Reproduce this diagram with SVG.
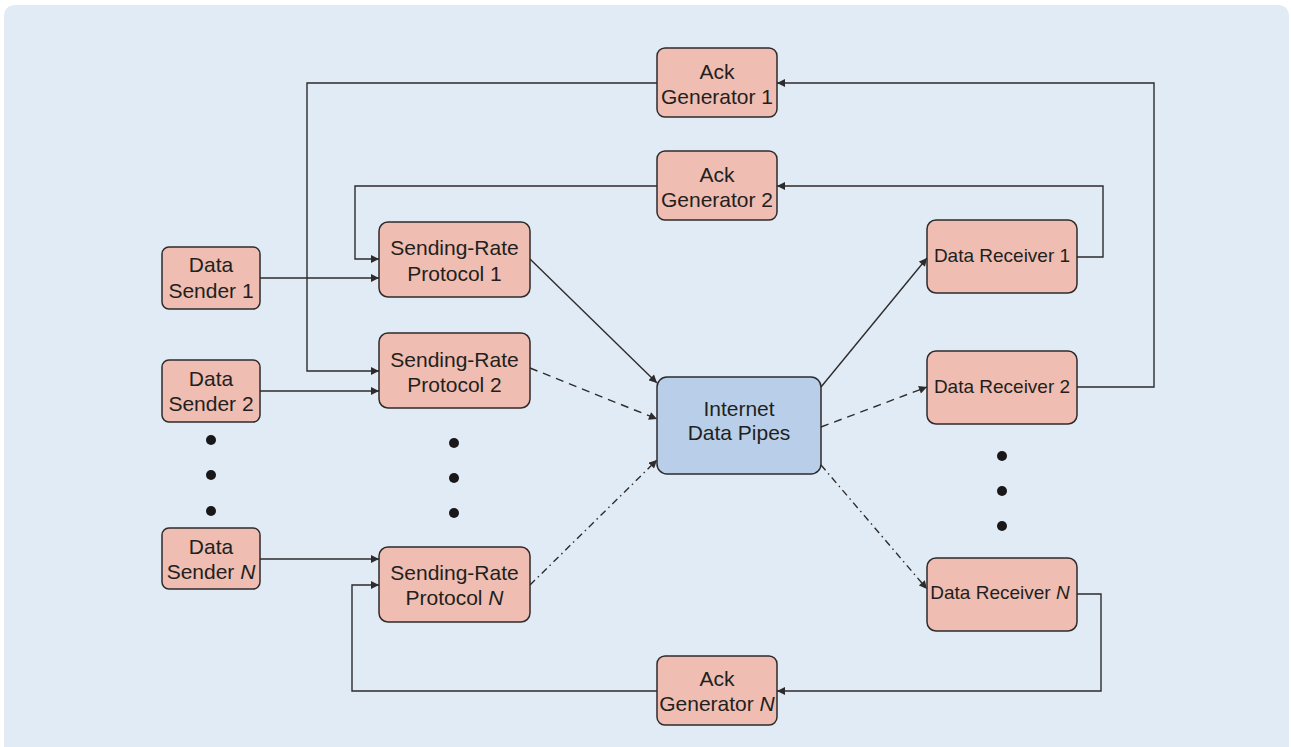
<svg xmlns="http://www.w3.org/2000/svg" width="1291" height="747" viewBox="0 0 1291 747">
  <style>
    .box { fill: #efbdb1; stroke: #2e2b2c; stroke-width: 1.5; }
    .pipe { fill: #b9cfe9; stroke: #2e2b2c; stroke-width: 1.5; }
    .lbl { font-family: "Liberation Sans", Arial, sans-serif; font-size: 21px; fill: #231f20; text-anchor: middle; }
    .rcv { font-size: 19px; }
    .it { font-style: italic; }
    .wire { fill: none; stroke: #2e2b2c; stroke-width: 1.4; }
    .dash { stroke-dasharray: 8 6; }
    .dashdot { stroke-dasharray: 7 4 1.5 4; }
    .dot { fill: #1a1718; }
  </style>
  <defs>
    <marker id="arrow" viewBox="0 0 10 10" refX="10" refY="5" markerWidth="9" markerHeight="8" markerUnits="userSpaceOnUse" orient="auto">
      <path d="M0,0 L10,5 L0,10 Z" fill="#2e2b2c"/>
    </marker>
  </defs>

  <!-- panel -->
  <path d="M4,747 L4,17 Q4,5 16,5 L1277,5 Q1289,5 1289,17 L1289,747 Z" fill="#e1ebf5"/>

  <!-- connectors -->
  <g id="connectors">
    <path class="wire" d="M260,278 L379,278" marker-end="url(#arrow)"/>
    <path class="wire" d="M260,391 L379,391" marker-end="url(#arrow)"/>
    <path class="wire" d="M260,559 L379,559" marker-end="url(#arrow)"/>

    <path class="wire" d="M1077,387 L1154,387 L1154,83 L777,83" marker-end="url(#arrow)"/>
    <path class="wire" d="M657,83 L307,83 L307,371 L379,371" marker-end="url(#arrow)"/>

    <path class="wire" d="M1077,257 L1103,257 L1103,186 L777,186" marker-end="url(#arrow)"/>
    <path class="wire" d="M657,186 L355,186 L355,259 L379,259" marker-end="url(#arrow)"/>

    <path class="wire" d="M1077,594 L1101,594 L1101,691 L777,691" marker-end="url(#arrow)"/>
    <path class="wire" d="M657,691 L352,691 L352,585 L379,585" marker-end="url(#arrow)"/>

    <path class="wire" d="M530,259 L657,383" marker-end="url(#arrow)"/>
    <path class="wire dash" d="M530,368 L657,419" marker-end="url(#arrow)"/>
    <path class="wire dashdot" d="M530,585 L657,460" marker-end="url(#arrow)"/>

    <path class="wire" d="M821,387 L927,258" marker-end="url(#arrow)"/>
    <path class="wire dash" d="M821,427 L927,387" marker-end="url(#arrow)"/>
    <path class="wire dashdot" d="M821,465 L927,589" marker-end="url(#arrow)"/>
  </g>

  <!-- senders -->
  <g id="sender1">
    <rect class="box" x="162" y="247" width="98" height="62" rx="7"/>
    <text class="lbl" x="211" y="272">Data</text>
    <text class="lbl" x="211" y="298">Sender 1</text>
  </g>
  <g id="sender2">
    <rect class="box" x="162" y="360" width="98" height="62" rx="7"/>
    <text class="lbl" x="211" y="386">Data</text>
    <text class="lbl" x="211" y="411">Sender 2</text>
  </g>
  <g id="senderN">
    <rect class="box" x="162" y="528" width="98" height="61" rx="7"/>
    <text class="lbl" x="211" y="554">Data</text>
    <text class="lbl" x="211" y="579">Sender <tspan class="it">N</tspan></text>
  </g>

  <!-- sending-rate protocols -->
  <g id="protocol1">
    <rect class="box" x="379" y="222" width="151" height="75" rx="9"/>
    <text class="lbl" x="454.5" y="255">Sending-Rate</text>
    <text class="lbl" x="454.5" y="281">Protocol 1</text>
  </g>
  <g id="protocol2">
    <rect class="box" x="379" y="333" width="151" height="75" rx="9"/>
    <text class="lbl" x="454.5" y="367">Sending-Rate</text>
    <text class="lbl" x="454.5" y="392">Protocol 2</text>
  </g>
  <g id="protocolN">
    <rect class="box" x="379" y="547" width="151" height="75" rx="9"/>
    <text class="lbl" x="454.5" y="580">Sending-Rate</text>
    <text class="lbl" x="454.5" y="605">Protocol <tspan class="it">N</tspan></text>
  </g>

  <!-- ack generators -->
  <g id="ack1">
    <rect class="box" x="657" y="48" width="120" height="69" rx="8"/>
    <text class="lbl" x="717" y="79">Ack</text>
    <text class="lbl" x="717" y="104">Generator 1</text>
  </g>
  <g id="ack2">
    <rect class="box" x="657" y="151" width="120" height="69" rx="8"/>
    <text class="lbl" x="717" y="182">Ack</text>
    <text class="lbl" x="717" y="207">Generator 2</text>
  </g>
  <g id="ackN">
    <rect class="box" x="657" y="656" width="120" height="69" rx="8"/>
    <text class="lbl" x="717" y="686">Ack</text>
    <text class="lbl" x="717" y="711">Generator <tspan class="it">N</tspan></text>
  </g>

  <!-- network -->
  <g id="internet">
    <rect class="pipe" x="657" y="377" width="164" height="97" rx="10"/>
    <text class="lbl" x="739" y="416">Internet</text>
    <text class="lbl" x="739" y="440">Data Pipes</text>
  </g>

  <!-- receivers -->
  <g id="receiver1">
    <rect class="box" x="927" y="220" width="150" height="73" rx="9"/>
    <text class="lbl rcv" x="1002" y="262">Data Receiver 1</text>
  </g>
  <g id="receiver2">
    <rect class="box" x="927" y="351" width="150" height="73" rx="9"/>
    <text class="lbl rcv" x="1002" y="393">Data Receiver 2</text>
  </g>
  <g id="receiverN">
    <rect class="box" x="927" y="558" width="150" height="73" rx="9"/>
    <text class="lbl rcv" x="1000" y="599">Data Receiver <tspan class="it">N</tspan></text>
  </g>

  <!-- ellipses -->
  <g id="ellipsis-senders">
    <circle class="dot" cx="211" cy="440" r="5"/>
    <circle class="dot" cx="211" cy="475" r="5"/>
    <circle class="dot" cx="211" cy="511" r="5"/>
  </g>
  <g id="ellipsis-protocols">
    <circle class="dot" cx="454" cy="443" r="5"/>
    <circle class="dot" cx="454" cy="478" r="5"/>
    <circle class="dot" cx="454" cy="513" r="5"/>
  </g>
  <g id="ellipsis-receivers">
    <circle class="dot" cx="1002" cy="456" r="5"/>
    <circle class="dot" cx="1002" cy="491" r="5"/>
    <circle class="dot" cx="1002" cy="526" r="5"/>
  </g>
</svg>
